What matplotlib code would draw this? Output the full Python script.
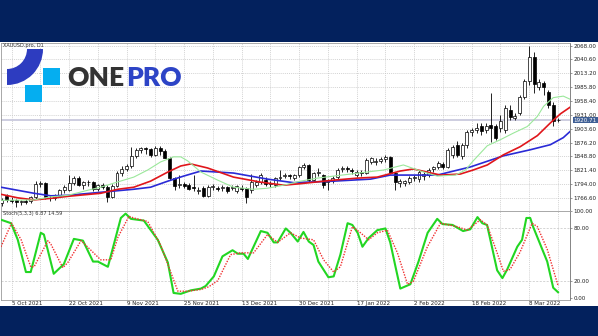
import matplotlib
matplotlib.use("Agg")
import matplotlib.pyplot as plt
from matplotlib.patches import Wedge, Rectangle
import numpy as np

# daily XAUUSD bars, 1 Oct 2021 .. 16 Mar 2022 (bar index = position)
opens = [1757, 1771, 1763, 1762, 1758, 1760, 1760, 1768, 1795, 1797,
         1767, 1766, 1771, 1782, 1783, 1796, 1806, 1793, 1798, 1799,
         1784, 1793, 1788, 1769, 1791, 1817, 1824, 1830, 1849, 1862,
         1865, 1863, 1852, 1866, 1860, 1846, 1806, 1792, 1794, 1793,
         1788, 1780, 1786, 1771, 1788, 1786, 1786, 1788, 1786, 1780,
         1787, 1786, 1782, 1792, 1798, 1802, 1795, 1792, 1806, 1810,
         1812, 1806, 1812, 1828, 1832, 1802, 1816, 1812, 1798, 1800,
         1808, 1824, 1826, 1822, 1812, 1818, 1817, 1838, 1838, 1840,
         1844, 1848, 1816, 1796, 1796, 1798, 1806, 1804, 1810, 1812,
         1824, 1828, 1834, 1828, 1852, 1872, 1850, 1872, 1898, 1902,
         1908, 1902, 1910, 1908, 1906, 1902, 1941, 1925, 1935, 1967,
         1997, 2046, 1987, 1993, 1977, 1951, 1920]
highs = [1766, 1774, 1768, 1765, 1763, 1764, 1770, 1800, 1801, 1799,
         1772, 1774, 1785, 1792, 1813, 1810, 1810, 1801, 1802, 1801,
         1795, 1796, 1792, 1794, 1820, 1830, 1834, 1868, 1865, 1868,
         1868, 1866, 1870, 1870, 1864, 1848, 1809, 1812, 1798, 1796,
         1812, 1788, 1790, 1792, 1794, 1791, 1792, 1790, 1792, 1792,
         1792, 1789, 1815, 1802, 1816, 1808, 1800, 1808, 1822, 1816,
         1815, 1814, 1830, 1836, 1834, 1819, 1826, 1814, 1804, 1810,
         1826, 1830, 1829, 1826, 1822, 1822, 1845, 1848, 1846, 1847,
         1852, 1850, 1818, 1804, 1803, 1810, 1812, 1822, 1818, 1826,
         1830, 1840, 1838, 1866, 1872, 1880, 1876, 1902, 1906, 1914,
         1914, 1914, 1975, 1912, 1931, 1950, 1950, 1935, 1970, 2002,
         2068, 2056, 2001, 1997, 1980, 1956, 1925]
lows = [1750, 1758, 1756, 1748, 1752, 1755, 1757, 1765, 1788, 1764,
        1760, 1763, 1768, 1777, 1780, 1792, 1790, 1785, 1790, 1781,
        1780, 1785, 1758, 1766, 1788, 1810, 1820, 1825, 1846, 1856,
        1854, 1848, 1850, 1852, 1845, 1803, 1782, 1786, 1786, 1782,
        1781, 1775, 1768, 1768, 1783, 1780, 1781, 1777, 1782, 1777,
        1780, 1756, 1776, 1788, 1795, 1790, 1789, 1789, 1802, 1806,
        1804, 1802, 1809, 1824, 1798, 1799, 1810, 1786, 1782, 1796,
        1804, 1818, 1818, 1814, 1808, 1810, 1814, 1834, 1832, 1836,
        1838, 1814, 1782, 1788, 1790, 1794, 1800, 1798, 1802, 1808,
        1818, 1824, 1824, 1825, 1846, 1848, 1844, 1866, 1890, 1896,
        1892, 1896, 1878, 1882, 1898, 1896, 1920, 1920, 1930, 1962,
        1990, 1975, 1980, 1971, 1945, 1908, 1916]
closes = [1762, 1763, 1760, 1758, 1760, 1758, 1768, 1795, 1797, 1768,
          1766, 1771, 1782, 1788, 1796, 1806, 1793, 1798, 1799, 1784,
          1793, 1788, 1769, 1791, 1817, 1824, 1830, 1849, 1862, 1865,
          1863, 1852, 1866, 1860, 1846, 1806, 1790, 1794, 1790, 1785,
          1786, 1783, 1771, 1789, 1791, 1784, 1788, 1780, 1788, 1790,
          1785, 1769, 1798, 1799, 1812, 1794, 1797, 1806, 1809, 1812,
          1810, 1812, 1828, 1832, 1802, 1816, 1819, 1792, 1802, 1806,
          1822, 1826, 1824, 1820, 1818, 1816, 1842, 1846, 1840, 1843,
          1848, 1816, 1798, 1800, 1800, 1806, 1808, 1818, 1814, 1822,
          1828, 1836, 1828, 1862, 1868, 1852, 1872, 1898, 1902, 1906,
          1900, 1908, 1906, 1886, 1918, 1945, 1927, 1929, 1967, 1997,
          2046, 1991, 1995, 1987, 1951, 1918, 1920.71]

# alligator-style moving averages (bar index, price)
jaw_x = [-0.2, 6.7, 10.2, 13.75, 20.6, 27.5, 31, 34.6, 37.9, 41.5, 48.3, 55.4,
         60.8, 69.2, 76.9, 81, 90.8, 97.7, 104.6, 110.2, 114.4, 117.1, 118.5]
jaw_y = [1788, 1776, 1771, 1772, 1778, 1784, 1788, 1800, 1810, 1820, 1816, 1804,
         1797, 1800, 1804, 1812, 1812, 1828, 1850, 1862, 1872, 1886, 1898]
teeth_x = [-0.2, 3.3, 6.7, 10.2, 13.75, 20.6, 24.2, 27.5, 31, 34.6, 37.3, 39.4,
           42.9, 48.3, 54, 58.75, 62.3, 69.2, 74.2, 78.3, 83.1, 85.8, 91.5,
           95.6, 98.3, 101.25, 104.6, 108.1, 111.7, 114.4, 116.5, 118.5]
teeth_y = [1774, 1767, 1763, 1766, 1770, 1776, 1784, 1788, 1800, 1818, 1830, 1834,
           1826, 1808, 1798, 1792, 1795, 1802, 1806, 1808, 1820, 1824, 1812,
           1814, 1822, 1832, 1852, 1868, 1890, 1915, 1933, 1946]
lips_x = [-0.2, 6.7, 10.2, 13.75, 17.9, 20.6, 23.3, 27.5, 30.4, 33.1, 35.8, 37.3,
          38.75, 41.5, 45, 48.3, 52.5, 55.4, 58.75, 62.3, 65.8, 69.2, 72.7, 79.6,
          83.75, 87.3, 90.8, 94.6, 96.7, 98.3, 101.25, 104, 106.7, 109.6, 111.7,
          113, 115, 117.1, 118.5]
lips_y = [1762, 1763, 1769, 1772, 1782, 1788, 1796, 1808, 1822, 1838, 1848, 1848,
          1840, 1818, 1802, 1788, 1784, 1786, 1792, 1800, 1806, 1810, 1814, 1822,
          1832, 1820, 1810, 1812, 1822, 1840, 1870, 1882, 1895, 1908, 1928,
          1948, 1965, 1968, 1962]

# Stoch(5,3,3)
k_x = [-0.2, 1.9, 3.3, 5.0, 6.0, 8.1, 8.75, 10.8, 12.9, 15.0, 16.9, 19.0, 20.0,
       22.1, 24.8, 25.8, 26.9, 29.6, 32.5, 34.6, 35.8, 37.3, 39.4, 41.5, 42.5,
       44.2, 46.0, 48.1, 49.2, 50.4, 51.3, 54.0, 55.4, 56.7, 57.5, 59.2, 60.2,
       61.7, 62.9, 64.0, 65.0, 66.0, 68.1, 69.2, 70.6, 72.1, 73.1, 74.2, 75.2,
       76.5, 78.3, 80.0, 81.0, 82.1, 83.1, 85.2, 86.9, 88.8, 90.8, 91.9, 94.0,
       96.2, 97.7, 99.2, 100.2, 101.2, 103.3, 104.4, 105.4, 107.5, 108.5, 109.4,
       110.2, 110.8, 113.75, 115.0, 116.0]
k_y = [90, 86, 67, 30, 30, 75, 73, 28, 39, 68, 66, 42, 42,
       36, 92, 97, 91, 89, 67, 41, 6, 5, 9, 11, 14,
       25, 48, 55, 51, 51, 45, 77, 75, 64, 64, 80, 75,
       65, 76, 65, 61, 42, 24, 25, 50, 86, 84, 75, 59,
       69, 78, 80, 64, 36, 11, 16, 42, 75, 91, 85, 84,
       77, 79, 93, 86, 84, 32, 23, 33, 59, 67, 92,
       92, 82, 42, 12, 6.87]
d_x = [-0.2, 2, 4, 6, 6.7, 9.6, 10.2, 12.7, 13.75, 16.5, 18, 20.6, 22.7, 24.2,
       26.5, 27.5, 30.4, 33.1, 35.2, 36.7, 38.75, 41.5, 43.1, 45, 47.7, 49.8,
       52.5, 55.4, 57.5, 60.2, 62.3, 65, 67.1, 69.2, 70.6, 73.1, 74.8, 76.5,
       78.3, 80.4, 82.5, 84.6, 85.8, 88.75, 91.5, 95, 97.1, 99.8, 101.2, 103.3,
       104.6, 106, 108.1, 110.6, 111.7, 113.75, 116]
d_y = [59, 86, 67, 36, 36, 66, 62, 35, 41, 66, 58, 44, 44, 70,
       94, 92, 88, 61, 30, 8, 8, 10, 13, 20, 50, 52,
       52, 73, 64, 75, 69, 67, 44, 30, 36, 82, 75, 67,
       75, 78, 52, 16, 19, 59, 86, 82, 78, 90, 84, 52,
       31, 33, 53, 86, 82, 56, 14.59]

date_pos = [2, 14, 26, 38, 50, 62, 74, 86, 98, 110]
date_lbl = ["5 Oct 2021", "22 Oct 2021", "9 Nov 2021", "25 Nov 2021", "13 Dec 2021",
            "30 Dec 2021", "17 Jan 2022", "2 Feb 2022", "18 Feb 2022", "8 Mar 2022"]
price_ticks = [1766.6, 1794.0, 1821.4, 1848.8, 1876.2, 1903.6, 1931.0,
               1958.4, 1985.8, 2013.2, 2040.6, 2068.0]
last_price = 1920.71

NAVY = "#03215d"
W, H = 598, 336
fig = plt.figure(figsize=(W / 100, H / 100), dpi=100, facecolor=NAVY)
fig.patches.append(Rectangle((0, 1 - 306 / H), 1, 264 / H, transform=fig.transFigure,
                             facecolor="white", edgecolor="none", zorder=-10))

def px(x0, y0, x1, y1):
    # pixel box (top-left origin) -> figure fraction rect
    return [x0 / W, 1 - y1 / H, (x1 - x0) / W, (y1 - y0) / H]

ax = fig.add_axes(px(1, 43, 570, 211))
ax2 = fig.add_axes(px(1, 211, 570, 299.5), sharex=ax)

idx = np.arange(len(closes))
for a in (ax, ax2):
    a.set_facecolor("white")
    for g in range(2, 119, 6):
        a.axvline(g, color="#c4c4c4", lw=0.5, ls=(0, (1.5, 1.5)), zorder=0)
    for s in a.spines.values():
        s.set_color("#9a9a9a")
        s.set_linewidth(0.6)
    a.spines["right"].set_color("#707070")
    a.yaxis.tick_right()
    a.tick_params(axis="y", length=1.5, width=0.5, color="#707070", pad=1,
                  labelsize=4.1, labelcolor="#222222")

for p in price_ticks:
    ax.axhline(p, color="#c4c4c4", lw=0.5, ls=(0, (1.5, 1.5)), zorder=0)
ax.axhline(last_price, color="#c9c9dd", lw=1.3, zorder=1)

# candles
up = [c >= o for o, c in zip(opens, closes)]
ax.vlines(idx, lows, highs, color="black", lw=0.6, zorder=3)
body_lo = [min(o, c) for o, c in zip(opens, closes)]
body_h = [max(abs(c - o), 0.8) for o, c in zip(opens, closes)]
ax.bar(idx, body_h, bottom=body_lo, width=0.62,
       color=["white" if u else "black" for u in up],
       edgecolor="black", linewidth=0.5, zorder=4)

ax.plot(jaw_x, jaw_y, color="#2a2ad6", lw=1.2, zorder=5)
ax.plot(teeth_x, teeth_y, color="#e0161b", lw=1.2, zorder=5)
ax.plot(lips_x, lips_y, color="#9be89b", lw=0.8, zorder=5)

ax.set_xlim(-0.2, 118.5)
ax.set_ylim(1741, 2073)
ax.set_yticks(price_ticks)
ax.set_yticklabels(["%.2f" % p for p in price_ticks])
ax.tick_params(axis="x", bottom=False, labelbottom=False)
ax.text(1.006, last_price, "%.2f" % last_price, transform=ax.get_yaxis_transform(),
        fontsize=4.1, color="white", va="center", ha="left",
        bbox=dict(boxstyle="square,pad=0.15", fc="#3f5f95", ec="none"))

ax2.axhline(80, color="#c4c4c4", lw=0.5, ls=(0, (3, 2)), zorder=0)
ax2.axhline(20, color="#c4c4c4", lw=0.5, ls=(0, (3, 2)), zorder=0)
ax2.plot(k_x, k_y, color="#22d622", lw=1.5, zorder=4)
ax2.plot(d_x, d_y, color="#f03030", lw=1.0, ls=(0, (1, 1)), zorder=5)
ax2.set_ylim(-1.5, 100)
ax2.set_yticks([0, 20, 80, 100])
ax2.set_yticklabels(["0.00", "20.00", "80.00", "100.00"])
ax2.set_xticks(date_pos)
ax2.set_xticklabels(date_lbl)
ax2.tick_params(axis="x", length=1, width=0.5, color="#707070", pad=0.4,
                labelsize=4.0, labelcolor="#222222")
for lb in ax2.get_xticklabels():
    lb.set_ha("left")

# overlay in pixel coordinates for the labels and the logo
ov = fig.add_axes([0, 0, 1, 1], facecolor="none")
ov.set_xlim(0, W)
ov.set_ylim(H, 0)
ov.axis("off")
ov.text(3, 46, "XAUUSD.pro, D1", fontsize=3.6, color="#333333", va="center")
ov.text(3, 214, "Stoch(5,3,3) 6.87 14.59", fontsize=3.6, color="#333333", va="center")

ov.add_patch(Wedge((7, 49), 36, 0, 90, width=16, facecolor="#2d3cc0", edgecolor="none"))
ov.add_patch(Rectangle((43, 68), 17, 17, facecolor="#05aef0", edgecolor="none"))
ov.add_patch(Rectangle((25, 85), 17, 17, facecolor="#05aef0", edgecolor="none"))
one = ov.text(67, 86.5, "ONE", fontsize=19, family="Lato", fontweight="heavy",
              color="#333333", va="baseline", ha="left")
fig.canvas.draw()
bb = one.get_window_extent()
ov.text(bb.x1 + 2, 86.5, "PRO", fontsize=19, family="Lato", fontweight="heavy",
        color="#2d44c6", va="baseline", ha="left",
        transform=matplotlib.transforms.blended_transform_factory(
            matplotlib.transforms.IdentityTransform(), ov.transData))

fig.savefig("out.png", dpi=100, facecolor=NAVY)
